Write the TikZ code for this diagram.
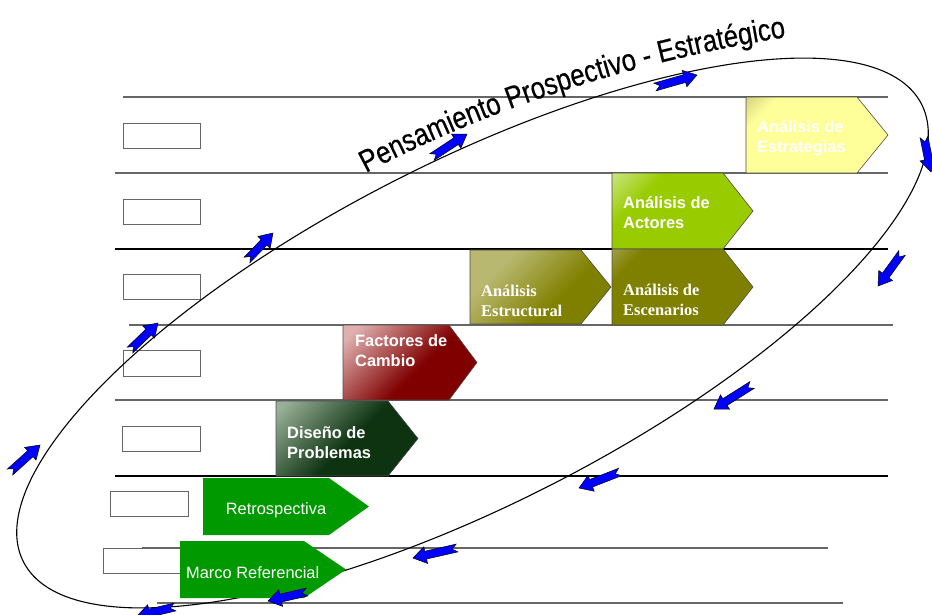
\documentclass[tikz,border=0pt]{standalone}
\usepackage{fontspec}
\setmainfont{Liberation Sans}
\newfontfamily\serifbf{Liberation Serif}
\newfontfamily\titlefont[FakeStretch=0.83,FakeBold=0.4]{Liberation Sans}
\usetikzlibrary{calc,decorations.text}
\definecolor{estrD}{HTML}{FFFF99}\definecolor{estrL}{HTML}{9C9460}
\definecolor{actD}{HTML}{99CC00}\definecolor{actL}{HTML}{F4FAE6}
\definecolor{escD}{HTML}{808000}\definecolor{escL}{HTML}{C8C8A8}
\definecolor{estD}{HTML}{808000}\definecolor{estL}{HTML}{B8B870}
\definecolor{facD}{HTML}{800000}\definecolor{facL}{HTML}{E0B0B0}
\definecolor{disD}{HTML}{0E3311}\definecolor{disL}{HTML}{98B098}
\definecolor{grn}{HTML}{009900}
\definecolor{lgray}{HTML}{666666}
\pgfdeclarehorizontalshading{shEstr}{100bp}{color(0bp)=(estrL); color(25bp)=(estrD); color(100bp)=(estrD)}
\pgfdeclarehorizontalshading{shAct}{100bp}{color(0bp)=(actL); color(32bp)=(actD); color(100bp)=(actD)}
\pgfdeclarehorizontalshading{shEsc}{100bp}{color(0bp)=(escL); color(25bp)=(escD); color(100bp)=(escD)}
\pgfdeclarehorizontalshading{shEst}{100bp}{color(0bp)=(estL); color(30bp)=(estL); color(60bp)=(estD); color(100bp)=(estD)}
\pgfdeclarehorizontalshading{shFac}{100bp}{color(0bp)=(facL); color(20bp)=(facL); color(55bp)=(facD); color(100bp)=(facD)}
\pgfdeclarehorizontalshading{shDis}{100bp}{color(0bp)=(disL); color(18bp)=(disL); color(52bp)=(disD); color(100bp)=(disD)}
\tikzset{
  hline/.style={draw=lgray, line width=1.1pt},
  hlinek/.style={draw=black, line width=1.1pt},
  lbox/.style={draw=lgray, fill=white, line width=1pt, minimum width=77pt, minimum height=25pt, anchor=north west, inner sep=0pt},
  pentshape/.style={draw=black!70, line width=0.6pt, shading angle=-45},
  flatshape/.style={fill=grn},
  ptext/.style={text=white, font=\fontsize{16.4}{20}\selectfont\bfseries, align=left, anchor=base west, inner sep=0pt},
  stext/.style={text=white, font=\serifbf\fontsize{16.4}{20}\selectfont\bfseries, align=left, anchor=base west, inner sep=0pt},
  ntext/.style={text=white, font=\fontsize{16.4}{20}\selectfont, inner sep=0pt},
  loop/.style={draw=black, line width=1.1pt},
  barrow/.style={fill=blue, draw=black, line width=0.5pt, line join=miter},
}
\begin{document}
\begin{tikzpicture}[x=1pt,y=-1pt]
\useasboundingbox (0,0) rectangle (932,614);
\clip (0,0) rectangle (932,614);
% horizontal lines
\draw[hline]  (123,97)  -- (888,97);
\draw[hline]  (115,173) -- (888,173);
\draw[hlinek] (115,249) -- (888,249);
\draw[hline]  (129,325) -- (893,325);
\draw[hline]  (115,400) -- (888,400);
\draw[hlinek] (115,476) -- (888,476);
\draw[hline]  (142,548) -- (828,548);
\draw[hline]  (157,603) -- (843,603);
% left boxes
\node[lbox] (box1) at (123,123) {};
\node[lbox] (box2) at (123,199) {};
\node[lbox] (box3) at (123,274) {};
\node[lbox, minimum height=26pt] (box4) at (123,350) {};
\node[lbox, minimum width=78pt] (box5) at (122,426) {};
\node[lbox, minimum width=78pt] (box6) at (110,491) {};
\node[lbox] (box7) at (103,548) {};
% loop
\draw[loop, rotate around={27:(472.5,333)}] (472.5,333) ellipse [x radius=504, y radius=171];
% pentagons
\shade[pentshape, shading=shEstr] (746,97) -- (857,97) -- (888,135) -- (857,173) -- (746,173) -- cycle;
\shade[pentshape, shading=shAct] (612,173) -- (723,173) -- (753,211) -- (723,249) -- (612,249) -- cycle;
\shade[pentshape, shading=shEsc] (612,249) -- (723,249) -- (753,287) -- (723,325) -- (612,325) -- cycle;
\shade[pentshape, shading=shEst] (470,250) -- (581,250) -- (611,287) -- (581,324) -- (470,324) -- cycle;
\shade[pentshape, shading=shFac] (343,325) -- (449,325) -- (477,362.5) -- (449,400) -- (343,400) -- cycle;
\shade[pentshape, shading=shDis] (276,401) -- (388,401) -- (418,438.5) -- (388,476) -- (276,476) -- cycle;
\fill[flatshape] (203,478) -- (329,478) -- (369,506.5) -- (329,535) -- (203,535) -- cycle;
\fill[flatshape] (180,541) -- (304,541) -- (346,569.5) -- (304,598) -- (180,598) -- cycle;
% labels (anchor at baseline of the second line)
\node[ptext] (estrategias) at (757,152) {Análisis de\\Estrategias};
\node[ptext] (actores) at (623,228) {Análisis de\\Actores};
\node[stext] (escenarios) at (623,315) {Análisis de\\Escenarios};
\node[stext] (estructural) at (481,316) {Análisis\\Estructural};
\node[ptext] (factores) at (355,366) {Factores de\\Cambio};
\node[ptext] (diseno) at (287,458) {Diseño de\\Problemas};
\node[ntext, anchor=base] (retro) at (276,514) {Retrospectiva};
\node[ntext, anchor=base west] (marco) at (186,578) {Marco Referencial};
% title along the loop
\path[decorate, decoration={text along path, text align=left,
  text={|\titlefont\fontsize{31}{32}\selectfont|Pensamiento Prospectivo - Estratégico}}]
  (366,173) .. controls (470,118) and (620,62) .. (800,35);
% blue arrows
\foreach \ax/\ay/\bx/\by in {432/157/467/134, 655/87/697/75, 924/137/931/172, 902/253/878/286,
  752/385/714/409, 620/472/579/488, 457/548/413/558, 307/592/268/601, 175/607/137/616,
  10/472/40/445, 130/350/158/323, 247/260/273/233}{
  \coordinate (aT) at (\ax,\ay);
  \coordinate (aH) at (\bx,\by);
  \filldraw[barrow] ($(aT)!4pt!90:(aH)$) -- ($(aH)!13pt!(aT)!4pt!-90:(aT)$)
    -- ($(aH)!13pt!(aT)!8.5pt!-90:(aT)$) -- (aH) -- ($(aH)!13pt!(aT)!8.5pt!90:(aT)$)
    -- ($(aH)!13pt!(aT)!4pt!90:(aT)$) -- ($(aT)!4pt!-90:(aH)$) -- ($(aT)!5pt!(aH)$) -- cycle;
}
\end{tikzpicture}
\end{document}
